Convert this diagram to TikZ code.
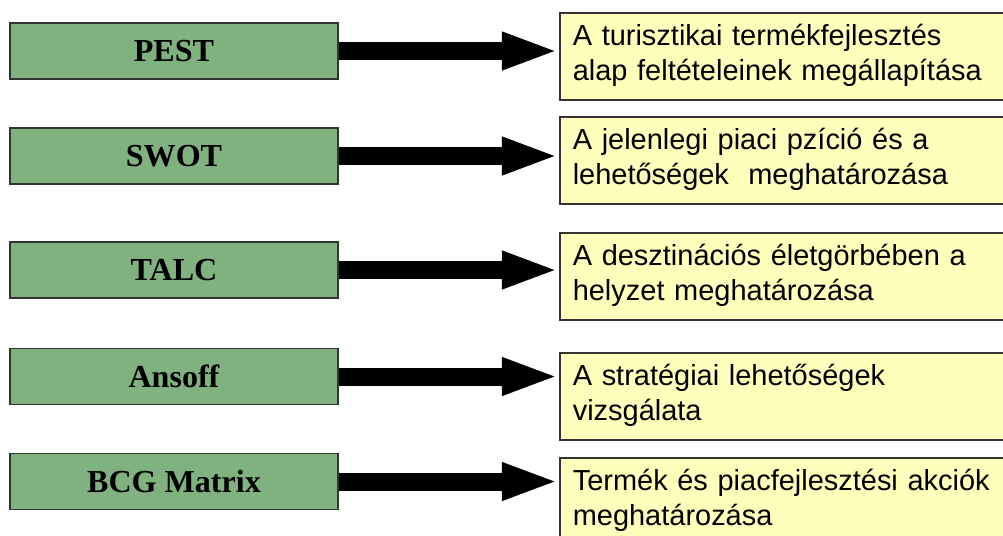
\documentclass[tikz,border=0pt]{standalone}
\usepackage{fontspec}
\setmainfont{Liberation Sans}
\newfontfamily\antikva{Liberation Serif}
\usetikzlibrary{arrows.meta}
\definecolor{zold}{RGB}{128,178,128}
\definecolor{sarga}{RGB}{255,255,187}

\begin{document}
\begin{tikzpicture}[x=0.025cm, y=-0.025cm, line join=miter,
	modszer/.style={draw=black!80, line width=1.1pt, fill=zold, minimum width=8.2cm, minimum height=1.4cm, inner sep=0pt, font=\antikva\bfseries\fontsize{22.8pt}{26pt}\selectfont},
	cel/.style={draw=black!80, line width=1.1pt, fill=sarga, anchor=north west, minimum width=11.5cm, minimum height=2.175cm, text width=10.85cm, inner xsep=0.325cm, inner ysep=0pt, align=left, font=\fontsize{20.6pt}{24.9pt}\selectfont},
	nyil/.style={line width=0.45cm, -{Triangle[length=1.425cm, width=0.85cm]}}]
			\clip (0,0) rectangle (1003,535);
			% módszerek
			\node[modszer] (pest) at (174,51) {PEST};
			\node[modszer] (swot) at (174,156) {SWOT};
			\node[modszer] (talc) at (174,270) {TALC};
			\node[modszer] (ansoff) at (174,376.5) {Ansoff};
			\node[modszer] (bcg) at (174,481.5) {BCG Matrix};
			% célok
			\node[cel] (c1) at (559,12) {\strut A turisztikai termékfejlesztés\\\strut alap feltételeinek megállapítása};
			\node[cel] (c2) at (559,116) {\strut A jelenlegi piaci pzíció és a\\\strut lehetőségek\ \ meghatározása};
			\node[cel] (c3) at (559,232) {\strut A desztinációs életgörbében a\\\strut helyzet meghatározása};
			\node[cel] (c4) at (559,352) {\strut A stratégiai lehetőségek\\\strut vizsgálata};
			\node[cel] (c5) at (559,457) {\strut Termék és piacfejlesztési akciók\\\strut meghatározása};
			% nyilak
			\draw[nyil] (pest.east) -- (pest.east -| c1.west);
			\draw[nyil] (swot.east) -- (swot.east -| c2.west);
			\draw[nyil] (talc.east) -- (talc.east -| c3.west);
			\draw[nyil] (ansoff.east) -- (ansoff.east -| c4.west);
			\draw[nyil] (bcg.east) -- (bcg.east -| c5.west);
		\end{tikzpicture}
\end{document}
